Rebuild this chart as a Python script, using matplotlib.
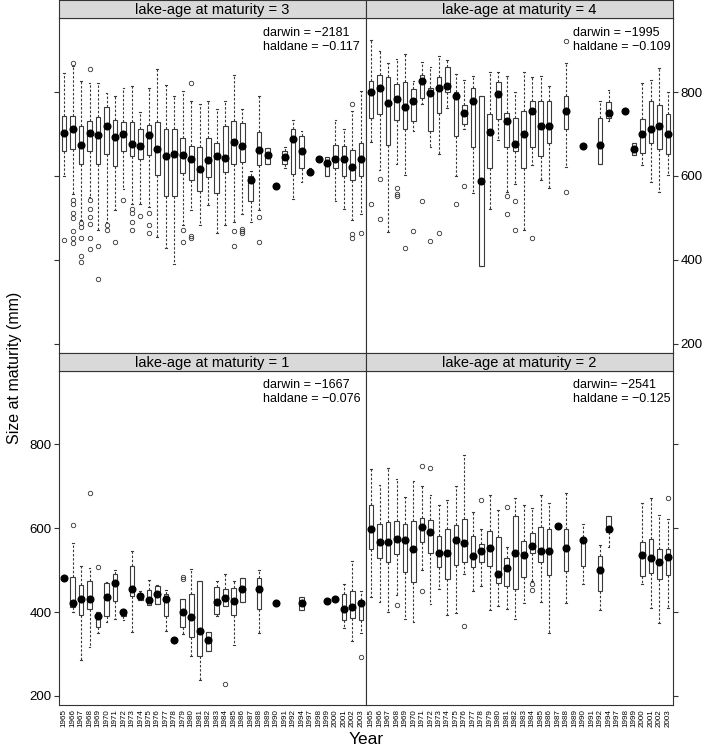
import numpy as np
import matplotlib.pyplot as plt

plt.rcParams['font.family'] = ['Liberation Sans', 'DejaVu Sans']

years = ['1965', '1966', '1967', '1968', '1969', '1970', '1971', '1972', '1973', '1974',
         '1975', '1976', '1977', '1978', '1979', '1980', '1981', '1982', '1983', '1984',
         '1985', '1986', '1987', '1988', '1989', '1990', '1991', '1992', '1994', '1997',
         '1998', '1999', '2000', '2001', '2002', '2003']

# lake-age at maturity = 3
age3_med = [703, 712, 673, 702, 698, 720, 694, 701, 676, 671, 698, 665, 648, 652, 649, 641, 616, 637, 647, 643,
            681, 671, 591, 662, 649, 576, 646, 688, 660, 610, 641, 631, 641, 641, 621, 641]
age3_q1 = [660, 664, 629, 660, 629, 652, 624, 660, 648, 640, 650, 602, 552, 553, 606, 591, 564, 597, 560, 610,
           628, 634, 541, 625, 629, None, 629, 604, 620, 607, None, 601, 620, 600, 590, 600]
age3_q3 = [743, 744, 719, 732, 740, 765, 734, 729, 729, 711, 722, 729, 711, 711, 691, 672, 668, 691, 679, 719,
           730, 727, 600, 706, 666, None, 660, 711, 695, 613, None, 645, 675, 671, 661, 679]
age3_lo = [599, 558, 496, 550, 471, 490, 518, 570, 534, 534, 526, 455, 429, 391, 483, 518, 483, 530, 463, 483,
           489, 510, 489, 518, 629, None, 620, 546, 586, 607, None, 601, 540, 520, 494, 510]
age3_hi = [845, 863, 826, 821, 822, 799, 791, 810, 814, 752, 810, 856, 818, 791, 802, 780, 771, 780, 759, 779,
           840, 759, 613, 791, 666, None, 669, 733, 707, 620, None, 645, 733, 711, 756, 802]
age3_out = [[447], [870, 542, 532, 512, 500, 468, 451, 439], [488, 478, 453, 409, 395],
            [856, 542, 522, 502, 486, 452, 425], [432, 353], [482, 472], [443], [542], [522, 512, 489, 472],
            [505], [512, 483, 463], [], [], [], [472, 443], [822, 456, 453], [], [], [], [],
            [468, 433], [473, 468, 463], [], [501, 443], [], [], [], [], [], [], [], [], [], [],
            [771, 461, 453], [463]]

# lake-age at maturity = 4
age4_med = [801, 809, 775, 784, 765, 779, 826, 799, 809, 815, 791, 751, 780, 588, 706, 796, 730, 676, 699, 755,
            719, 719, None, 755, None, 671, None, 673, 751, None, 755, 665, 701, 711, 719, 701]
age4_q1 = [739, 749, 675, 734, 711, 730, 786, 707, 750, 800, 695, 723, 670, 386, 620, 737, 669, 660, 620, 669,
           648, 679, None, 711, None, None, None, 629, 739, None, None, 651, 655, 679, 665, 652]
age4_q3 = [826, 840, 837, 820, 825, 808, 842, 810, 837, 859, 800, 770, 810, 790, 748, 825, 750, 739, 756, 780,
           779, 779, None, 790, None, None, None, 739, 776, None, None, 679, 737, 780, 770, 748]
age4_lo = [681, 615, 467, 629, 602, 707, 772, 668, 652, 763, 601, 711, 560, 386, 520, 685, 562, 580, 471, 625,
           591, 571, None, 621, None, None, None, 629, 731, None, None, 651, 625, 586, 562, 602]
age4_hi = [925, 899, 869, 879, 890, 826, 871, 860, 886, 878, 844, 830, 838, 790, 848, 848, 838, 800, 849, 836,
           838, 814, None, 870, None, None, None, 779, 804, None, None, 679, 821, 830, 858, 800]
age4_out = [[532], [592, 498], [], [572, 558, 552], [427], [469], [541], [444], [463], [],
            [534], [575], [], [], [], [], [552, 510], [540, 472], [], [452],
            [], [], [], [921, 562], [], [], [], [], [], [], [], [], [], [], [], []]

# lake-age at maturity = 1
age1_med = [480, 422, 430, 432, 391, 436, 470, 401, 455, 438, 428, 443, 432, 332, 401, 389, 354, 332, 424, 434,
            427, 454, None, 456, None, 421, None, None, 421, None, None, 426, 431, 406, 412, 422]
age1_q1 = [None, 411, 393, 406, 364, 391, 426, 391, 439, 429, 417, 418, 391, None, 365, 341, 296, 308, 395, 414,
           393, 425, None, 407, None, None, None, None, 405, None, None, None, None, 381, 385, 381]
age1_q3 = [None, 484, 464, 475, 401, 470, 490, 405, 510, 444, 452, 463, 443, None, 431, 444, 474, 353, 459, 456,
           458, 480, None, 480, None, None, None, None, 436, None, None, None, None, 443, 451, 429]
age1_lo = [None, 401, 286, 316, 349, 377, 383, 381, 353, 428, 417, 418, 355, None, 347, 294, 238, 308, 390, 414,
           321, 425, None, 351, None, None, None, None, 405, None, None, None, None, 361, 331, 351]
age1_hi = [None, 565, 510, 506, 401, 472, 500, 406, 545, 451, 476, 464, 452, None, 431, 502, 474, 353, 474, 490,
           474, 480, None, 500, None, None, None, None, 436, None, None, None, None, 467, 521, 451]
age1_out = [[], [607], [], [685], [508], [], [], [], [], [], [], [], [], [], [484, 479], [], [], [], [], [228],
            [], [], [], [], [], [], [], [], [], [], [], [], [], [], [], [292]]

# lake-age at maturity = 2
age2_med = [599, 567, 567, 575, 571, 551, 602, 591, 542, 542, 571, 565, 534, 546, 553, 490, 504, 542, 537, 557,
            546, 546, 605, 553, None, 571, None, 500, 599, None, None, None, 536, 530, 520, 532]
age2_q1 = [550, 530, 520, 538, 496, 472, 567, 540, 508, 478, 513, 520, 508, 520, 510, 470, 462, 455, 484, 540,
           520, 488, None, 498, None, 509, None, 450, 591, None, None, None, 486, 494, 478, 488]
age2_q3 = [656, 609, 615, 617, 611, 617, 625, 619, 581, 599, 607, 621, 582, 563, 593, 579, 530, 629, 570, 589,
           603, 597, None, 599, None, 579, None, 533, 629, None, None, None, 567, 575, 551, 551]
age2_lo = [436, 425, 401, 440, 383, 377, 500, 420, 456, 393, 397, 490, 451, 462, 405, 414, 407, 383, 421, 475,
           425, 351, None, 421, None, 466, None, 405, 555, None, None, None, 466, 410, 374, 410]
age2_hi = [742, 704, 744, 718, 675, 712, 702, 679, 655, 667, 701, 775, 639, 599, 679, 644, 554, 671, 655, 649,
           680, 660, None, 685, None, 609, None, 561, 629, None, None, None, 660, 671, 631, 621]
age2_out = [[], [], [], [416], [], [], [748, 450], [744], [], [], [], [366], [], [667], [], [], [651], [], [],
            [466, 452], [], [], [], [], [], [], [], [], [], [], [], [], [], [], [], [671]]

EDGE = '#3a3a3a'


def draw_panel(ax, med, q1, q3, lo, hi, out):
    pos = np.arange(1, len(years) + 1)
    stats, spos = [], []
    for i in range(len(years)):
        if q1[i] is None:
            continue
        stats.append(dict(med=med[i], q1=q1[i], q3=q3[i], whislo=lo[i], whishi=hi[i], fliers=out[i]))
        spos.append(pos[i])
    ax.bxp(stats, positions=spos, widths=0.55, patch_artist=True, showfliers=True, capwidths=0.22,
           boxprops=dict(facecolor='white', edgecolor=EDGE, linewidth=0.8),
           whiskerprops=dict(color=EDGE, linewidth=0.8, linestyle=(0, (2.2, 1.6))),
           capprops=dict(color=EDGE, linewidth=0.8),
           medianprops=dict(linewidth=0),
           flierprops=dict(marker='o', markerfacecolor='none', markeredgecolor='#333333',
                           markersize=3.2, markeredgewidth=0.6))
    mx = [p for p, m in zip(pos, med) if m is not None]
    my = [m for m in med if m is not None]
    ax.plot(mx, my, 'o', color='black', markersize=4.8, zorder=5)
    ax.set_xlim(0.4, len(years) + 0.6)
    ax.set_ylim(178, 976)
    ax.set_yticks([200, 400, 600, 800])
    ax.set_xticks(pos)
    for s in ax.spines.values():
        s.set_color('#333333')
        s.set_linewidth(0.8)


fig = plt.figure(figsize=(7.06, 7.5), dpi=100)

xl, xr, w = 0.0836, 0.5184, 0.4348
yb, yt, h = 0.06, 0.5297, 0.4457
sh = 0.024

panels = [
    (xl, yt, '3', age3_med, age3_q1, age3_q3, age3_lo, age3_hi, age3_out, 'darwin = \u22122181\nhaldane = \u22120.117', 0.663),
    (xr, yt, '4', age4_med, age4_q1, age4_q3, age4_lo, age4_hi, age4_out, 'darwin = \u22121995\nhaldane = \u22120.109', 0.674),
    (xl, yb, '1', age1_med, age1_q1, age1_q3, age1_lo, age1_hi, age1_out, 'darwin = \u22121667\nhaldane = \u22120.076', 0.663),
    (xr, yb, '2', age2_med, age2_q1, age2_q3, age2_lo, age2_hi, age2_out, 'darwin= \u22122541\nhaldane = \u22120.125', 0.674),
]

for x0, y0, age, med, q1, q3, lo, hi, out, note, nx in panels:
    ax = fig.add_axes([x0, y0, w, h])
    draw_panel(ax, med, q1, q3, lo, hi, out)
    ax.text(nx, 0.975, note, transform=ax.transAxes, ha='left', va='top', fontsize=9, linespacing=1.25)

    top = y0 == yt
    left = x0 == xl
    ax.tick_params(axis='y', direction='out', length=3.5, width=0.8, color='#333333',
                   labelsize=9.5, pad=2,
                   left=left, right=not left,
                   labelleft=(left and not top), labelright=(top and not left))
    if top:
        ax.tick_params(axis='x', bottom=False, labelbottom=False)
    else:
        ax.tick_params(axis='x', length=0, pad=3, labelsize=5.8)
        ax.set_xticklabels(years, rotation=90)

    sax = fig.add_axes([x0, y0 + h, w, sh])
    sax.set_facecolor('#d9d9d9')
    sax.set_xticks([])
    sax.set_yticks([])
    for s in sax.spines.values():
        s.set_color('#333333')
        s.set_linewidth(0.8)
    sax.text(0.5, 0.45, 'lake-age at maturity = ' + age, ha='center', va='center',
             fontsize=10.5, transform=sax.transAxes)

fig.text(0.021, 0.51, 'Size at maturity (mm)', rotation=90, ha='center', va='center', fontsize=11.5)
fig.text(0.518, 0.0135, 'Year', ha='center', va='center', fontsize=12.5)

fig.savefig('out.png', dpi=100)
